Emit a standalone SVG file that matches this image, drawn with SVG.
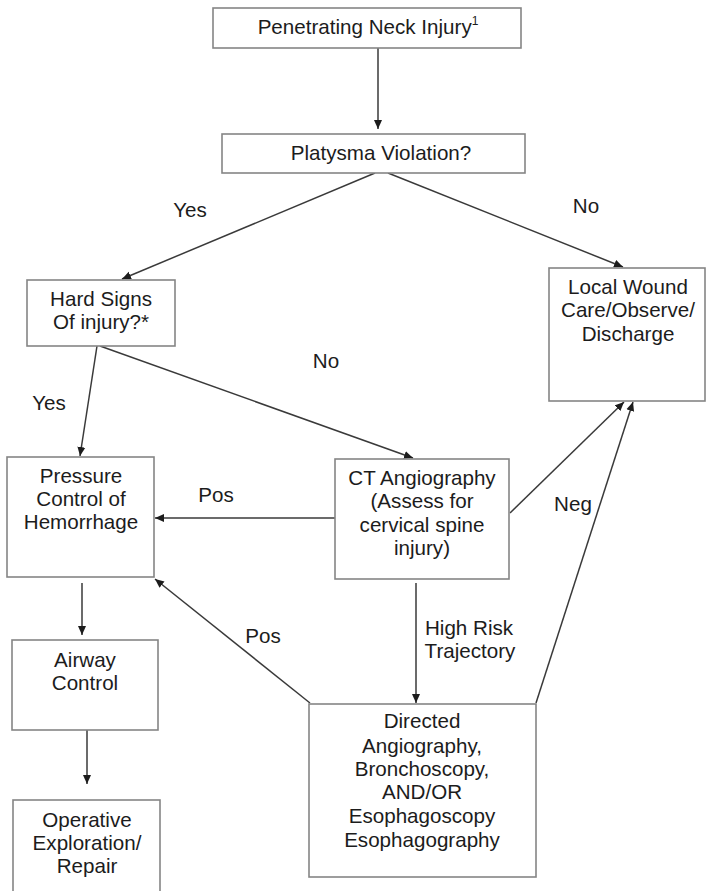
<svg xmlns="http://www.w3.org/2000/svg" width="706" height="891" viewBox="0 0 706 891">
  <style>
    .box { fill: #ffffff; stroke: #858585; stroke-width: 1.6; }
    .t { font-family: "Liberation Sans", Arial, sans-serif; font-size: 20.6px; fill: #1c1c1c; text-anchor: middle; }
    .lbl { font-family: "Liberation Sans", Arial, sans-serif; font-size: 20.6px; fill: #1c1c1c; text-anchor: middle; }
    .edge { fill: none; stroke: #3a3a3a; stroke-width: 1.5; }
    .arr { marker-end: url(#head); }
  </style>
  <defs>
    <marker id="head" markerUnits="userSpaceOnUse" markerWidth="10" markerHeight="9" refX="9" refY="4.5" orient="auto">
      <path d="M0,0.5 L9,4.5 L0,8.5 z" fill="#1c1c1c"/>
    </marker>
  </defs>
  <rect width="706" height="891" fill="#ffffff"/>

  <!-- connectors -->
  <g id="connectors">
    <line class="edge arr" x1="378" y1="48" x2="378" y2="129"/>
    <line class="edge arr" x1="375" y1="173" x2="122" y2="279"/>
    <line class="edge arr" x1="388" y1="173" x2="623" y2="267"/>
    <line class="edge arr" x1="97" y1="346" x2="80" y2="456"/>
    <line class="edge arr" x1="100" y1="346" x2="413" y2="458"/>
    <line class="edge arr" x1="335" y1="518" x2="155" y2="518"/>
    <line class="edge arr" x1="82" y1="583" x2="82" y2="635"/>
    <line class="edge arr" x1="87" y1="730" x2="87" y2="784"/>
    <line class="edge arr" x1="416" y1="583" x2="416" y2="703"/>
    <line class="edge arr" x1="310" y1="703" x2="155" y2="579"/>
    <line class="edge arr" x1="510" y1="513" x2="624" y2="402"/>
    <line class="edge arr" x1="536" y1="703" x2="633" y2="402"/>

    <text class="lbl" x="190" y="217">Yes</text>
    <text class="lbl" x="586" y="213">No</text>
    <text class="lbl" x="49" y="410">Yes</text>
    <text class="lbl" x="326" y="368">No</text>
    <text class="lbl" x="216" y="502">Pos</text>
    <text class="lbl" x="263" y="643">Pos</text>
    <text class="lbl" x="573" y="511">Neg</text>
    <text class="lbl" x="469" y="635">High Risk</text>
    <text class="lbl" x="470" y="658">Trajectory</text>
  </g>

  <!-- nodes -->
  <g id="injury">
    <rect class="box" x="213" y="8" width="308" height="40"/>
    <text class="t" x="368" y="34">Penetrating Neck Injury<tspan font-size="12px" dy="-9">1</tspan></text>
  </g>

  <g id="platysma">
    <rect class="box" x="222" y="134" width="303" height="39"/>
    <text class="t" x="381" y="160">Platysma Violation?</text>
  </g>

  <g id="hard-signs">
    <rect class="box" x="27" y="280" width="148" height="66"/>
    <text class="t" x="101" y="306">Hard Signs</text>
    <text class="t" x="101" y="329">Of injury?*</text>
  </g>

  <g id="local-wound">
    <rect class="box" x="549" y="268" width="156" height="133"/>
    <text class="t" x="628" y="294">Local Wound</text>
    <text class="t" x="628" y="317">Care/Observe/</text>
    <text class="t" x="628" y="341">Discharge</text>
  </g>

  <g id="pressure">
    <rect class="box" x="7" y="457" width="147" height="120"/>
    <text class="t" x="81" y="483">Pressure</text>
    <text class="t" x="81" y="506">Control of</text>
    <text class="t" x="81" y="529">Hemorrhage</text>
  </g>

  <g id="ct-angiography">
    <rect class="box" x="335" y="459" width="174" height="120"/>
    <text class="t" x="422" y="485">CT Angiography</text>
    <text class="t" x="422" y="508">(Assess for</text>
    <text class="t" x="422" y="532">cervical spine</text>
    <text class="t" x="422" y="555">injury)</text>
  </g>

  <g id="airway">
    <rect class="box" x="12" y="640" width="146" height="90"/>
    <text class="t" x="85" y="667">Airway</text>
    <text class="t" x="85" y="690">Control</text>
  </g>

  <g id="operative">
    <rect class="box" x="13" y="800" width="147" height="100"/>
    <text class="t" x="87" y="827">Operative</text>
    <text class="t" x="87" y="850">Exploration/</text>
    <text class="t" x="87" y="873">Repair</text>
  </g>

  <g id="directed">
    <rect class="box" x="309" y="704" width="227" height="173"/>
    <text class="t" x="422" y="728">Directed</text>
    <text class="t" x="422" y="753">Angiography,</text>
    <text class="t" x="422" y="776">Bronchoscopy,</text>
    <text class="t" x="422" y="799">AND/OR</text>
    <text class="t" x="422" y="823">Esophagoscopy</text>
    <text class="t" x="422" y="847">Esophagography</text>
  </g>
</svg>
